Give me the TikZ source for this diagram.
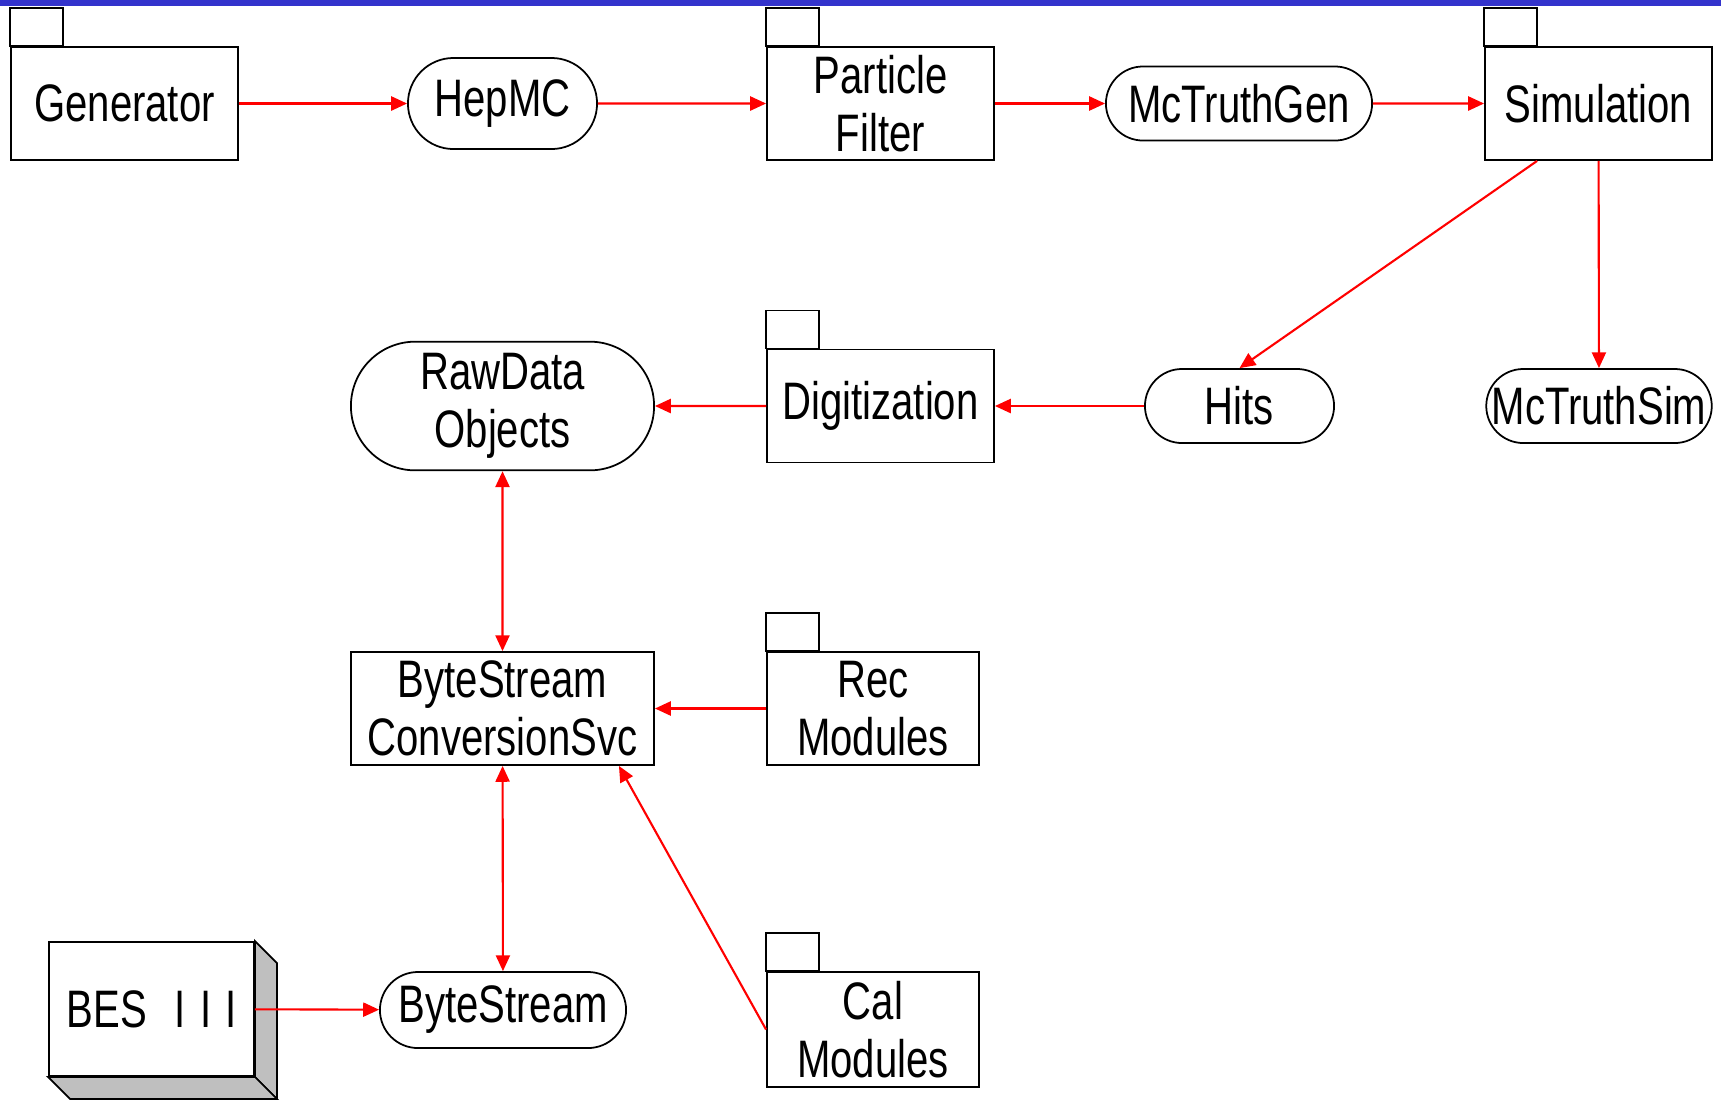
\documentclass[tikz,border=0pt]{standalone}
\usepackage{fontspec}
\setmainfont{Liberation Sans}[FakeStretch=0.76]
\usetikzlibrary{arrows.meta,shapes.misc}
\definecolor{barblue}{rgb}{0.2,0.2,0.8}
\definecolor{sidegray}{rgb}{0.75,0.75,0.75}

\tikzset{
  every node/.style={font=\fontsize{15}{16.5}\selectfont},
  pkg/.style={draw, line width=0.5pt, minimum width=2.27cm, minimum height=1.13cm, inner sep=0pt, align=center},
  obj/.style={draw, rounded rectangle, line width=0.5pt, minimum height=0.74cm, inner xsep=0pt, align=center},
  tip/.tip={Triangle[length=4.5pt,width=4pt]},
  flow/.style={red, line width=0.6pt, -tip},
  both/.style={red, line width=0.6pt, tip-tip},
}

\begin{document}
\begin{tikzpicture}[x=0.01cm,y=-0.01cm]
\useasboundingbox (0,0) rectangle (1721,1099);
\fill [barblue] (0,0) rectangle (1721,6);

\node [pkg] (gen) at (124.5,103.5) {Generator};
\node [obj, minimum width=1.89cm, minimum height=0.91cm] (hep) at (502.5,103.5) {HepMC};
\node [pkg] (pf) at (880.5,103.5) {Particle\\Filter};
\node [obj, minimum width=2.66cm] (mcgen) at (1239,103.5) {McTruthGen};
\node [pkg] (sim) at (1598.5,103.5) {Simulation};

\node [obj, minimum width=1.89cm] (hits) at (1239.5,406) {Hits};
\node [obj, minimum width=2.22cm] (mcsim) at (1599,406) {McTruthSim};
\node [pkg] (digi) at (880.5,406) {Digitization};
\node [obj, minimum width=3.03cm, minimum height=1.2cm] (raw) at (502.5,406) {RawData\\Objects};

\node [pkg, minimum width=3.03cm] (cnv) at (502.5,708.5) {ByteStream\\ConversionSvc};
\node [pkg, minimum width=2.12cm] (rec) at (873,708.5) {Rec\\Modules};
\node [pkg, minimum width=2.12cm, minimum height=1.15cm] (cal) at (873,1029.5) {Cal\\Modules};

\node [obj, minimum width=2.46cm, minimum height=0.76cm] (bstr) at (503,1010) {ByteStream};
\node [draw, line width=0.5pt, inner sep=0pt, minimum width=2.05cm, minimum height=1.34cm] (bes) at (151.5,1009) {BES\hspace{0.28cm}I\hspace{0.14cm}I\hspace{0.14cm}I\hspace{0.1cm}};
\filldraw [fill=sidegray, line width=0.5pt] (bes.north east) -- ++(22,22) -- ([shift={(22,22)}]bes.south east) -- (bes.south east) -- cycle;
\filldraw [fill=sidegray, line width=0.5pt] (bes.south west) -- (bes.south east) -- ([shift={(22,22)}]bes.south east) -- ([shift={(22,22)}]bes.south west) -- cycle;

\foreach \n in {gen,pf,sim,digi,rec,cal}
  \draw [line width=0.5pt] (\n.north west) rectangle ++(53,-38);

\draw [flow] (gen) -- (hep);
\draw [flow] (hep) -- (pf);
\draw [flow] (pf) -- (mcgen);
\draw [flow] (mcgen) -- (sim);
\draw [flow] ([xshift=0.53cm]sim.south west) -- (hits.north);
\draw [flow] (sim) -- (mcsim);
\draw [flow] (hits) -- (digi);
\draw [flow] (digi) -- (raw);
\draw [both] (raw) -- (cnv);
\draw [flow] (rec) -- (cnv);
\draw [flow] (cal.west) -- ([xshift=-0.36cm]cnv.south east);
\draw [both] (cnv) -- (bstr);
\draw [flow] (bes) -- (bstr);
\end{tikzpicture}
\end{document}
